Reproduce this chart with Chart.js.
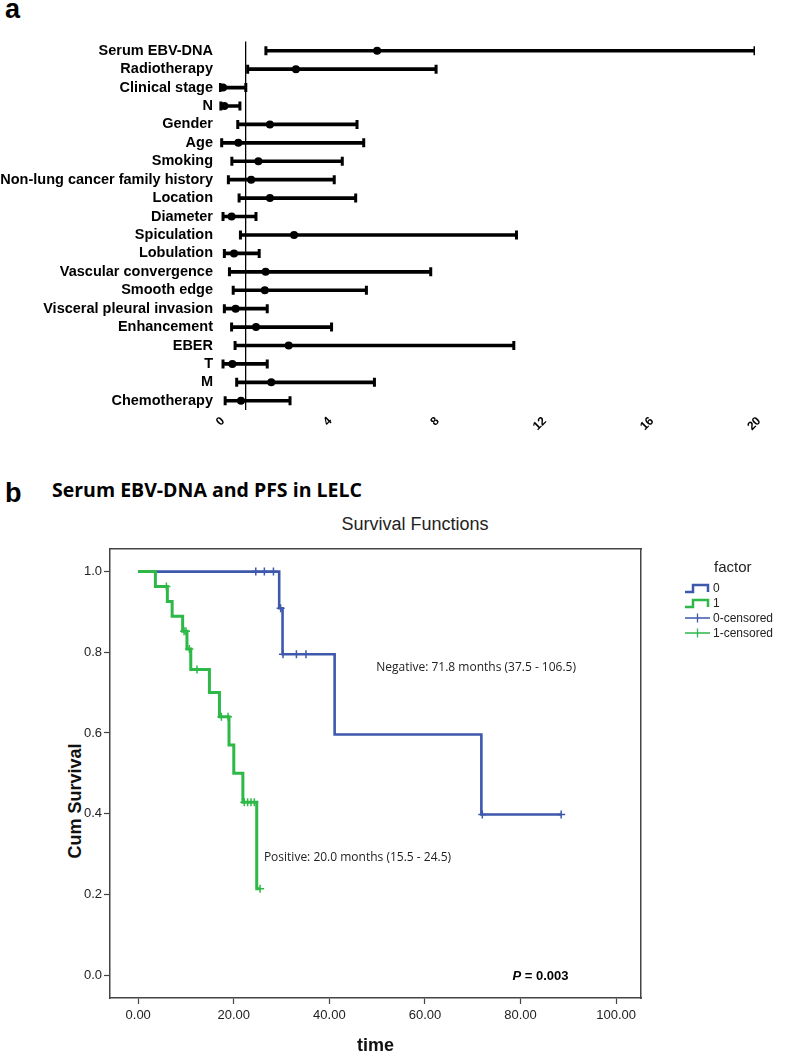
<!DOCTYPE html>
<html>
<head>
<meta charset="utf-8">
<script src="https://cdn.jsdelivr.net/npm/chart.js@4.4.1/dist/chart.umd.min.js"></script>
<style>
html, body { margin: 0; padding: 0; background: #fff; }
body { width: 787px; height: 1057px; position: relative; overflow: hidden; font-family: "Liberation Sans", Arial, sans-serif; color: #000; }
canvas { position: absolute; left: 0; }
.panel { position: absolute; font-weight: bold; font-size: 27px; line-height: 27px; }
#subtitle { position: absolute; left: 52px; top: 480px; font-family: "Open Sans", sans-serif; font-weight: bold; font-size: 19.5px; line-height: 20px; white-space: nowrap; }
#kmTitle { position: absolute; left: 415px; top: 515px; transform: translateX(-50%); font-size: 18px; line-height: 18px; color: #222; white-space: nowrap; }
#yTitle { position: absolute; left: 75px; top: 801px; transform: translate(-50%, -50%) rotate(-90deg); font-weight: bold; font-size: 18px; white-space: nowrap; color: #111; }
#legend { position: absolute; left: 684px; top: 556px; font-size: 12px; color: #222; }
#legend .title { font-size: 15px; margin-left: 30px; height: 24px; line-height: 22px; }
#legend .item { height: 15px; display: flex; align-items: center; white-space: nowrap; }
#legend svg { width: 27px; height: 12px; margin-right: 2px; }
</style>
</head>
<body>
<div class="panel" style="left:5px; top:-4px;">a</div>
<canvas id="forest" width="787" height="445" style="top:0"></canvas>

<div class="panel" style="left:5px; top:480px;">b</div>
<div id="subtitle">Serum EBV-DNA and PFS in LELC</div>
<div id="kmTitle">Survival Functions</div>
<div id="yTitle">Cum Survival</div>
<canvas id="km" width="787" height="552" style="top:505px"></canvas>
<div id="legend">
  <div class="title">factor</div>
  <div class="item"><svg viewBox="0 0 27 12"><path d="M1 10 H9 V3 H24 V10" stroke="#3E58AC" stroke-width="2.5" fill="none"/></svg>0</div>
  <div class="item"><svg viewBox="0 0 27 12"><path d="M1 10 H9 V3 H24 V10" stroke="#2EB848" stroke-width="2.5" fill="none"/></svg>1</div>
  <div class="item"><svg viewBox="0 0 27 12"><path d="M1 6 H26 M13.5 1.5 V10.5" stroke="#3E58AC" stroke-width="1.3" fill="none"/></svg>0-censored</div>
  <div class="item"><svg viewBox="0 0 27 12"><path d="M1 6 H26 M13.5 1.5 V10.5" stroke="#2EB848" stroke-width="1.3" fill="none"/></svg>1-censored</div>
</div>

<script>
// panel a: hazard ratios with 95% CI
const factors = ['Serum EBV-DNA', 'Radiotherapy', 'Clinical stage', 'N', 'Gender', 'Age', 'Smoking',
  'Non-lung cancer family history', 'Location', 'Diameter', 'Spiculation', 'Lobulation',
  'Vascular convergence', 'Smooth edge', 'Visceral pleural invasion', 'Enhancement', 'EBER', 'T', 'M', 'Chemotherapy'];
const hazardRatio = [5.9, 2.87, 0.15, 0.2, 1.9, 0.72, 1.47, 1.2, 1.9, 0.47, 2.8, 0.56, 1.74, 1.71, 0.62, 1.38, 2.6, 0.5, 1.95, 0.82];
const ciLower = [1.75, 1.07, 0.04, 0.07, 0.7, 0.1, 0.48, 0.35, 0.75, 0.15, 0.8, 0.2, 0.39, 0.53, 0.2, 0.47, 0.6, 0.15, 0.66, 0.23];
const ciUpper = [20.0, 8.1, 1.0, 0.78, 5.15, 5.4, 4.6, 4.3, 5.1, 1.38, 11.1, 1.5, 7.9, 5.5, 1.8, 4.2, 11.0, 1.8, 5.8, 2.65];
const hrTicks = [0, 4, 8, 12, 16, 20];
const refValue = [1];

// panel b: Kaplan-Meier curves (time in months, cumulative survival)
const negTime = [0, 29.5, 30.2, 41.1, 71.8, 88.5];
const negSurv = [1, 0.909, 0.795, 0.596, 0.398, 0.398];
const negCensTime = [24.6, 26.4, 28.3, 29.8, 30.3, 33.1, 35.1, 72.0, 88.5];
const negCensSurv = [1, 1, 1, 0.909, 0.795, 0.795, 0.795, 0.398, 0.398];
const posTime = [0, 3.6, 6.1, 7.1, 9.3, 10.2, 11.0, 14.9, 17.0, 19.0, 20.0, 21.9, 24.8, 25.5];
const posSurv = [1, 0.963, 0.926, 0.889, 0.852, 0.808, 0.757, 0.700, 0.640, 0.570, 0.500, 0.428, 0.214, 0.214];
const posCensTime = [5.9, 9.6, 10.0, 10.7, 12.3, 17.4, 18.8, 22.2, 22.9, 23.6, 24.3, 25.5];
const posCensSurv = [0.963, 0.852, 0.852, 0.808, 0.757, 0.640, 0.640, 0.428, 0.428, 0.428, 0.428, 0.214];
const timeTicks = [0, 20, 40, 60, 80, 100];
const survTicks = [0, 0.2, 0.4, 0.6, 0.8, 1.0];

const BLUE = '#3E58AC';
const GREEN = '#2EB848';

Chart.defaults.font.family = '"Liberation Sans", Arial, sans-serif';
Chart.defaults.color = '#000';

const capStyle = {
  type: 'line', indexAxis: 'y', showLine: false, pointStyle: 'line', rotation: 90,
  pointRadius: 4.5, pointBorderWidth: 3, pointBorderColor: '#000', borderColor: '#000'
};

new Chart(document.getElementById('forest'), {
  type: 'bar',
  data: {
    labels: factors,
    datasets: [
      { type: 'line', indexAxis: 'y', data: hazardRatio, showLine: false, pointRadius: 4,
        pointBackgroundColor: '#000', pointBorderColor: '#000', pointBorderWidth: 0 },
      Object.assign({ data: ciLower }, capStyle),
      Object.assign({ data: ciUpper }, capStyle),
      { type: 'bar', indexAxis: 'y', data: factors.map((f, i) => [ciLower[i], ciUpper[i]]),
        backgroundColor: '#000', borderWidth: 0, barThickness: 3 }
    ]
  },
  options: {
    indexAxis: 'y',
    responsive: false,
    animation: false,
    layout: { padding: { left: 0, right: 32, top: 41.5, bottom: 0 } },
    plugins: { legend: { display: false }, tooltip: { enabled: false } },
    scales: {
      x: {
        type: 'linear', min: 0, max: 20,
        afterBuildTicks: s => { s.ticks = hrTicks.map(v => ({ value: v })); },
        afterFit: s => { s.height = 35; },
        grid: { display: false, drawTicks: false },
        border: { display: false },
        ticks: { maxRotation: 45, minRotation: 45, padding: 4, labelOffset: 4, font: { size: 12, weight: 'bold' }, color: '#000' }
      },
      ref: {
        type: 'linear', position: 'bottom', min: 0, max: 20,
        afterBuildTicks: s => { s.ticks = refValue.map(v => ({ value: v })); },
        afterFit: s => { s.height = 0; },
        grid: { color: '#000', lineWidth: 1.3, drawTicks: false },
        border: { display: false },
        ticks: { display: false }
      },
      y: {
        type: 'category',
        afterFit: s => { s.width = 219; },
        grid: { display: false, drawTicks: false },
        border: { display: false },
        ticks: { autoSkip: false, padding: 6, font: { size: 14.5, weight: 'bold' }, color: '#000' }
      }
    }
  }
});

// annotation texts inside the survival plot
const kmNotes = {
  id: 'kmNotes',
  afterDatasetsDraw(chart) {
    const { ctx, scales: { x, y } } = chart;
    ctx.save();
    ctx.fillStyle = '#222';
    ctx.textBaseline = 'middle';
    ctx.font = '12px "Open Sans"';
    ctx.fillText('Negative: 71.8 months (37.5 - 106.5)', x.getPixelForValue(49.8), y.getPixelForValue(0.763));
    ctx.fillText('Positive: 20.0 months (15.5 - 24.5)', x.getPixelForValue(26.3), y.getPixelForValue(0.292));
    const px = x.getPixelForValue(78.3), py = y.getPixelForValue(-0.003);
    ctx.fillStyle = '#000';
    ctx.font = 'italic bold 13px "Liberation Sans"';
    ctx.fillText('P', px, py);
    const w = ctx.measureText('P').width;
    ctx.font = 'bold 13px "Liberation Sans"';
    ctx.fillText(' = 0.003', px + w, py);
    ctx.restore();
  }
};

const pts = (xs, ys) => xs.map((x, i) => ({ x, y: ys[i] }));
const frame = { display: true, color: '#444', width: 1.5 };

new Chart(document.getElementById('km'), {
  type: 'scatter',
  data: {
    datasets: [
      { label: '0', data: pts(negTime, negSurv), showLine: true, stepped: true, borderColor: BLUE,
        borderWidth: 2.6, pointRadius: 0, order: 3 },
      { label: '0-censored', data: pts(negCensTime, negCensSurv), pointStyle: 'cross', pointRadius: 4,
        pointBorderColor: BLUE, borderColor: BLUE, pointBorderWidth: 1.5, order: 2 },
      { label: '1', data: pts(posTime, posSurv), showLine: true, stepped: true, borderColor: GREEN,
        borderWidth: 3, pointRadius: 0, order: 1 },
      { label: '1-censored', data: pts(posCensTime, posCensSurv), pointStyle: 'cross', pointRadius: 4,
        pointBorderColor: GREEN, borderColor: GREEN, pointBorderWidth: 1.5, order: 0 }
    ]
  },
  options: {
    responsive: false,
    animation: false,
    layout: { padding: { left: 0, right: 146, top: 44, bottom: 0 } },
    plugins: { legend: { display: false }, tooltip: { enabled: false } },
    scales: {
      x: {
        type: 'linear', min: -5.9, max: 105.2,
        afterBuildTicks: s => { s.ticks = timeTicks.map(v => ({ value: v })); },
        afterFit: s => { s.height = 59; },
        grid: { drawOnChartArea: false, drawTicks: true, tickLength: 6, tickColor: '#444', tickWidth: 1.2 },
        border: frame,
        ticks: { padding: 4, font: { size: 13 }, color: '#222', callback: v => Number(v).toFixed(2) },
        title: { display: true, text: 'time', font: { size: 18, weight: 'bold' }, color: '#111', padding: { top: 0, bottom: 0 } }
      },
      xTop: {
        type: 'linear', position: 'top',
        afterFit: s => { s.height = 0; },
        grid: { display: false, drawTicks: false }, ticks: { display: false }, border: frame
      },
      y: {
        type: 'linear', min: -0.057, max: 1.056,
        afterBuildTicks: s => { s.ticks = survTicks.map(v => ({ value: v })); },
        afterFit: s => { s.width = 110; },
        grid: { drawOnChartArea: false, drawTicks: true, tickLength: 6, tickColor: '#444', tickWidth: 1.2 },
        border: frame,
        ticks: { padding: 2, font: { size: 13 }, color: '#222', callback: v => Number(v).toFixed(1) }
      },
      yRight: {
        type: 'linear', position: 'right',
        afterFit: s => { s.width = 0; },
        grid: { display: false, drawTicks: false }, ticks: { display: false }, border: frame
      }
    }
  },
  plugins: [kmNotes]
});
</script>
</body>
</html>
